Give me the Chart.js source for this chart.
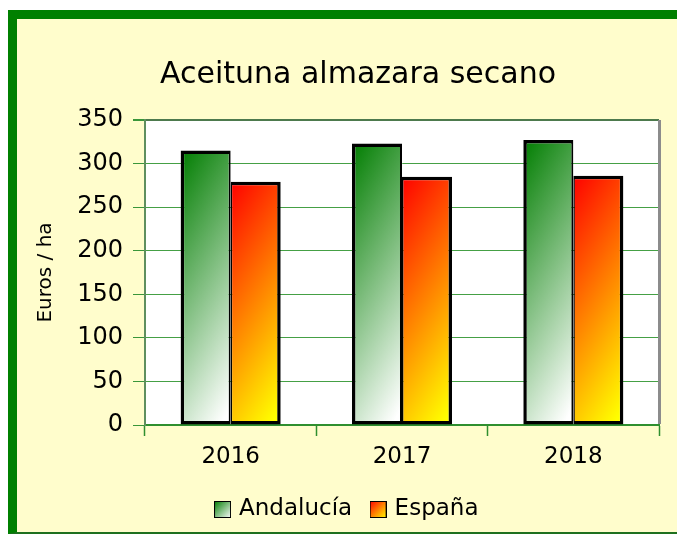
<!DOCTYPE html>
<html>
<head>
<meta charset="utf-8">
<script src="https://cdn.jsdelivr.net/npm/chart.js@4.4.1/dist/chart.umd.min.js"></script>
<style>
  html, body { margin: 0; padding: 0; background: #fff; overflow: hidden; }
  #frame {
    position: absolute; left: 8px; top: 10px; width: 700px; height: 513px;
    background: #fffdcc;
    border-left: 9px solid #008000; border-top: 9px solid #008000; border-bottom: 2px solid #1e701e;
  }
  #wrap { position: absolute; left: 17px; top: 19px; width: 660px; height: 512px; }
</style>
</head>
<body>
<div id="frame"></div>
<div id="wrap"><canvas id="grafico" width="660" height="512"></canvas></div>
<script>
// datos
const years = ["2016", "2017", "2018"];
const andalucia = [315, 323, 327];
const espana = [279, 285, 286];
const yTicks = [0, 50, 100, 150, 200, 250, 300, 350];

const TITLE = "Aceituna almazara secano";
const CAT_PCT = 0.584;

const greenStops = ["#007d00", "#ffffff"];
const redStops = ["#ff0000", "#ffff00"];

Chart.defaults.font.family = "'DejaVu Sans', sans-serif";

// degradado diagonal por barra (cambio horizontal ha, vertical va)
function barGradient(c, stops) {
  const chart = c.chart;
  const xs = chart.scales.x;
  const ys = chart.scales.y;
  if (!chart.chartArea || !xs || !ys || c.dataIndex === undefined) return stops[0];
  const w = (xs.width / years.length) * CAT_PCT / 2;
  const cx = xs.getPixelForValue(c.dataIndex);
  const x0 = cx - w + c.datasetIndex * w;
  const y0 = ys.getPixelForValue(c.raw);
  const h = ys.getPixelForValue(0) - y0;
  const ha = 0.25, va = 0.8;
  const D = 1 / ((ha / w) * (ha / w) + (va / h) * (va / h));
  const dx = (ha / w) * D, dy = (va / h) * D;
  const g = chart.ctx.createLinearGradient(x0, y0, x0 + dx, y0 + dy);
  g.addColorStop(0, stops[0]);
  g.addColorStop(1, stops[1]);
  return g;
}

// cuadrito de la leyenda
function legendBox(stops) {
  const cv = document.createElement("canvas");
  cv.width = 17;
  cv.height = 17;
  const cx = cv.getContext("2d");
  const g = cx.createLinearGradient(0, 0, 17, 17);
  g.addColorStop(0, stops[0]);
  g.addColorStop(1, stops[1]);
  cx.fillStyle = g;
  cx.fillRect(0, 0, 17, 17);
  cx.strokeStyle = "#000";
  cx.lineWidth = 1;
  cx.strokeRect(0.5, 0.5, 16, 16);
  return cv;
}
const legendImgs = [legendBox(greenStops), legendBox(redStops)];

const plotBackground = {
  id: "plotBackground",
  afterLayout(chart) {
    // leyenda un poco a la izquierda del título
    chart.legend.left -= 10;
    chart.legend.right -= 10;
  },
  beforeDraw(chart) {
    const a = chart.chartArea;
    const ctx = chart.ctx;
    ctx.save();
    ctx.fillStyle = "#ffffff";
    ctx.fillRect(a.left, a.top, a.right - a.left, a.bottom - a.top);
    ctx.restore();
  },
  afterDraw(chart) {
    // sombra gris a la derecha
    const a = chart.chartArea;
    const ctx = chart.ctx;
    ctx.save();
    ctx.fillStyle = "#8c8c8c";
    ctx.fillRect(a.right - 1, a.top, 3, a.bottom - a.top - 1);
    ctx.restore();
  },
};

new Chart(document.getElementById("grafico"), {
  type: "bar",
  data: {
    labels: years,
    datasets: [
      {
        label: "Andalucía",
        data: andalucia,
        backgroundColor: (c) => barGradient(c, greenStops),
        borderColor: "#000",
        borderWidth: { top: 3.5, left: 3.5, bottom: 3.5, right: 2 },
        borderSkipped: false,
      },
      {
        label: "España",
        data: espana,
        backgroundColor: (c) => barGradient(c, redStops),
        borderColor: "#000",
        borderWidth: { top: 3.5, left: 1.5, bottom: 3.5, right: 3.5 },
        borderSkipped: false,
      },
    ],
  },
  options: {
    responsive: false,
    animation: false,
    categoryPercentage: CAT_PCT,
    barPercentage: 1,
    layout: {
      padding: { left: 40, right: 18, top: 0, bottom: 0 },
    },
    plugins: {
      title: {
        display: true,
        text: TITLE,
        color: "#000",
        font: { size: 30, weight: "normal" },
        padding: { top: 38, bottom: 27 },
      },
      legend: {
        position: "bottom",
        labels: {
          usePointStyle: true,
          boxWidth: 10,
          padding: 21,
          color: "#000",
          font: { size: 23 },
          generateLabels: (chart) =>
            chart.data.datasets.map((ds, i) => ({
              text: ds.label,
              pointStyle: legendImgs[i],
              fillStyle: "#000",
              lineWidth: 0,
              hidden: false,
              datasetIndex: i,
              fontColor: "#000",
            })),
        },
      },
      tooltip: { enabled: false },
    },
    scales: {
      x: {
        grid: {
          offset: true,
          drawOnChartArea: false,
          tickLength: 11,
          tickColor: "#2f8f2f",
          tickWidth: 1.5,
        },
        border: { color: "#2f8f2f", width: 2 },
        ticks: { color: "#000", font: { size: 23 }, padding: 7 },
        afterFit: (s) => {
          s.height = 52;
        },
      },
      y: {
        min: 0,
        max: 350,
        afterBuildTicks: (s) => {
          s.ticks = yTicks.map((v) => ({ value: v }));
        },
        ticks: { color: "#000", font: { size: 24 }, padding: 10 },
        grid: {
          color: (c) => (c.tick && c.tick.value === 350 ? "#4d7a4d" : "#45a045"),
          lineWidth: (c) => (c.tick && c.tick.value === 350 ? 2 : 1),
          tickLength: 12,
          tickColor: "#3a963a",
        },
        border: { color: "#5f8f5f", width: 2 },
        title: {
          display: true,
          text: "Euros / ha",
          color: "#000",
          font: { size: 20 },
          padding: { top: -23 },
        },
        afterFit: (s) => {
          s.width = 88;
        },
      },
    },
  },
  plugins: [plotBackground],
});
</script>
</body>
</html>
